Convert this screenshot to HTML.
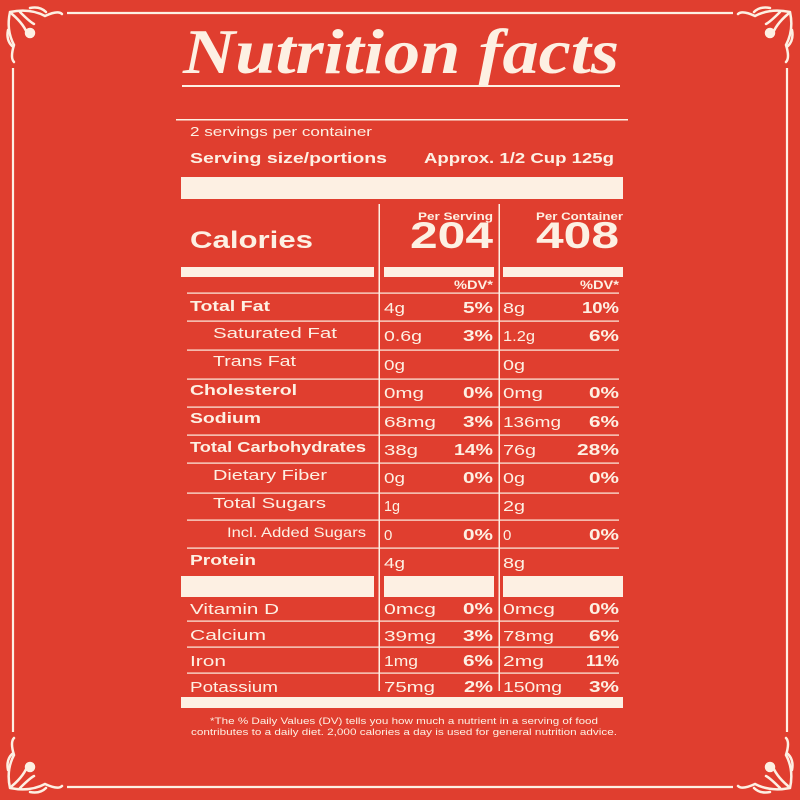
<!DOCTYPE html>
<html><head><meta charset="utf-8"><style>
html,body{margin:0;padding:0;background:#E03E2F;}
svg{display:block}
text{font-family:"Liberation Sans",sans-serif;fill:#FDF0E3}
.b{font-weight:bold}
</style></head><body>
<svg width="800" height="800" viewBox="0 0 800 800" xmlns="http://www.w3.org/2000/svg">
<rect width="800" height="800" fill="#E03E2F"/>
<g stroke="#FDF0E3" stroke-width="2.2" fill="none">
<line x1="67" y1="13" x2="733" y2="13"/>
<line x1="67" y1="787" x2="733" y2="787"/>
<line x1="13" y1="68" x2="13" y2="732"/>
<line x1="787" y1="68" x2="787" y2="732"/>
</g>
<defs>
<g id="orn" fill="none" stroke="#FDF0E3" stroke-width="2.5" stroke-linecap="round">
<path d="M10 12 Q30 8 45 16 Q58 10 62 14 M10 12 Q6 30 14 45 Q10 58 14 62"/>
<path d="M12 14 Q25 25 28 36 M20 12 Q30 22 34 24"/>
<circle cx="30" cy="33" r="4" fill="#FDF0E3"/>
<path d="M8 30 Q6 40 12 46 M30 8 Q40 6 46 12"/>
</g>
</defs>
<use href="#orn"/>
<use href="#orn" transform="translate(800,0) scale(-1,1)"/>
<use href="#orn" transform="translate(0,800) scale(1,-1)"/>
<use href="#orn" transform="translate(800,800) scale(-1,-1)"/>

<text x="183" y="73" class="b" font-style="italic" font-size="64" textLength="436" lengthAdjust="spacingAndGlyphs" style="font-family:'Liberation Serif',serif">Nutrition facts</text>
<rect x="182" y="85" width="438" height="2" fill="#FDF0E3"/>
<rect x="176" y="119" width="452" height="1.5" fill="#FDF0E3"/>
<g lengthAdjust="spacingAndGlyphs">
<text x="190" y="136" font-size="13" textLength="182" lengthAdjust="spacingAndGlyphs">2 servings per container</text>
<text x="190" y="163" font-size="15" class="b" textLength="197" lengthAdjust="spacingAndGlyphs">Serving size/portions</text>
<text x="424" y="163" font-size="15" class="b" textLength="190" lengthAdjust="spacingAndGlyphs">Approx. 1/2 Cup 125g</text>
</g>
<rect x="181" y="177" width="442" height="22" fill="#FDF0E3"/>
<rect x="378.5" y="204" width="1.5" height="487" fill="#FDF0E3"/>
<rect x="498.5" y="204" width="1.5" height="487" fill="#FDF0E3"/>
<text x="190" y="248" font-size="24" class="b" textLength="123" lengthAdjust="spacingAndGlyphs">Calories</text>
<text x="418" y="220" font-size="11" class="b" textLength="75" lengthAdjust="spacingAndGlyphs">Per Serving</text>
<text x="536" y="220" font-size="11" class="b" textLength="87" lengthAdjust="spacingAndGlyphs">Per Container</text>
<text x="410" y="248" font-size="37" class="b" textLength="83" lengthAdjust="spacingAndGlyphs">204</text>
<text x="536" y="248" font-size="37" class="b" textLength="83" lengthAdjust="spacingAndGlyphs">408</text>
<g fill="#FDF0E3">
<rect x="181" y="267" width="193" height="10"/>
<rect x="384" y="267" width="110" height="10"/>
<rect x="503" y="267" width="120" height="10"/>
<rect x="181" y="576" width="193" height="21"/>
<rect x="384" y="576" width="110" height="21"/>
<rect x="503" y="576" width="120" height="21"/>
<rect x="181" y="697" width="442" height="11"/>
</g>
<text x="454" y="289" font-size="12" class="b" textLength="39" lengthAdjust="spacingAndGlyphs">%DV*</text>
<text x="580" y="289" font-size="12" class="b" textLength="39" lengthAdjust="spacingAndGlyphs">%DV*</text>
<g fill="#FDF0E3">
<rect x="187" y="292.5" width="432" height="1.2"/>
<rect x="187" y="320.5" width="432" height="1.2"/>
<rect x="187" y="349.5" width="432" height="1.2"/>
<rect x="187" y="378.5" width="432" height="1.2"/>
<rect x="187" y="406.5" width="432" height="1.2"/>
<rect x="187" y="434.5" width="432" height="1.2"/>
<rect x="187" y="462.5" width="432" height="1.2"/>
<rect x="187" y="492.5" width="432" height="1.2"/>
<rect x="187" y="519.5" width="432" height="1.2"/>
<rect x="187" y="547.5" width="432" height="1.2"/>
<rect x="187" y="620.5" width="432" height="1.2"/>
<rect x="187" y="646.5" width="432" height="1.2"/>
<rect x="187" y="672.5" width="432" height="1.2"/>
</g>
<g font-size="15">
<text x="190" y="311" class="b" textLength="80" lengthAdjust="spacingAndGlyphs">Total Fat</text>
<text x="213" y="338" textLength="124" lengthAdjust="spacingAndGlyphs">Saturated Fat</text>
<text x="213" y="366" textLength="83" lengthAdjust="spacingAndGlyphs">Trans Fat</text>
<text x="190" y="395" class="b" textLength="107" lengthAdjust="spacingAndGlyphs">Cholesterol</text>
<text x="190" y="423" class="b" textLength="71" lengthAdjust="spacingAndGlyphs">Sodium</text>
<text x="190" y="452" class="b" textLength="176" lengthAdjust="spacingAndGlyphs">Total Carbohydrates</text>
<text x="213" y="480" textLength="114" lengthAdjust="spacingAndGlyphs">Dietary Fiber</text>
<text x="213" y="508" textLength="113" lengthAdjust="spacingAndGlyphs">Total Sugars</text>
<text x="227" y="537" font-size="14" textLength="139" lengthAdjust="spacingAndGlyphs">Incl. Added Sugars</text>
<text x="190" y="565" class="b" textLength="66" lengthAdjust="spacingAndGlyphs">Protein</text>
<text x="190" y="614" textLength="89" lengthAdjust="spacingAndGlyphs">Vitamin D</text>
<text x="190" y="640" textLength="76" lengthAdjust="spacingAndGlyphs">Calcium</text>
<text x="190" y="666" textLength="36" lengthAdjust="spacingAndGlyphs">Iron</text>
<text x="190" y="692" textLength="88" lengthAdjust="spacingAndGlyphs">Potassium</text>

<text x="384" y="313" textLength="21" lengthAdjust="spacingAndGlyphs">4g</text><text x="503" y="313" textLength="22" lengthAdjust="spacingAndGlyphs">8g</text>
<text x="384" y="341" textLength="38" lengthAdjust="spacingAndGlyphs">0.6g</text><text x="503" y="341" textLength="32" lengthAdjust="spacingAndGlyphs">1.2g</text>
<text x="384" y="370" textLength="21" lengthAdjust="spacingAndGlyphs">0g</text><text x="503" y="370" textLength="22" lengthAdjust="spacingAndGlyphs">0g</text>
<text x="384" y="398" textLength="40" lengthAdjust="spacingAndGlyphs">0mg</text><text x="503" y="398" textLength="40" lengthAdjust="spacingAndGlyphs">0mg</text>
<text x="384" y="427" textLength="52" lengthAdjust="spacingAndGlyphs">68mg</text><text x="503" y="427" textLength="58" lengthAdjust="spacingAndGlyphs">136mg</text>
<text x="384" y="455" textLength="34" lengthAdjust="spacingAndGlyphs">38g</text><text x="503" y="455" textLength="33" lengthAdjust="spacingAndGlyphs">76g</text>
<text x="384" y="483" textLength="21" lengthAdjust="spacingAndGlyphs">0g</text><text x="503" y="483" textLength="22" lengthAdjust="spacingAndGlyphs">0g</text>
<text x="384" y="511" textLength="16" lengthAdjust="spacingAndGlyphs">1g</text><text x="503" y="511" textLength="22" lengthAdjust="spacingAndGlyphs">2g</text>
<text x="384" y="540">0</text><text x="503" y="540">0</text>
<text x="384" y="568" textLength="21" lengthAdjust="spacingAndGlyphs">4g</text><text x="503" y="568" textLength="22" lengthAdjust="spacingAndGlyphs">8g</text>
<text x="384" y="614" textLength="52" lengthAdjust="spacingAndGlyphs">0mcg</text><text x="503" y="614" textLength="52" lengthAdjust="spacingAndGlyphs">0mcg</text>
<text x="384" y="641" textLength="52" lengthAdjust="spacingAndGlyphs">39mg</text><text x="503" y="641" textLength="51" lengthAdjust="spacingAndGlyphs">78mg</text>
<text x="384" y="666" textLength="34" lengthAdjust="spacingAndGlyphs">1mg</text><text x="503" y="666" textLength="41" lengthAdjust="spacingAndGlyphs">2mg</text>
<text x="384" y="692" textLength="51" lengthAdjust="spacingAndGlyphs">75mg</text><text x="503" y="692" textLength="59" lengthAdjust="spacingAndGlyphs">150mg</text>
</g>
<g font-size="16" class="b">
<text x="463" y="313" textLength="30" lengthAdjust="spacingAndGlyphs">5%</text><text x="582" y="313" textLength="37" lengthAdjust="spacingAndGlyphs">10%</text>
<text x="463" y="341" textLength="30" lengthAdjust="spacingAndGlyphs">3%</text><text x="589" y="341" textLength="30" lengthAdjust="spacingAndGlyphs">6%</text>
<text x="463" y="398" textLength="30" lengthAdjust="spacingAndGlyphs">0%</text><text x="589" y="398" textLength="30" lengthAdjust="spacingAndGlyphs">0%</text>
<text x="463" y="427" textLength="30" lengthAdjust="spacingAndGlyphs">3%</text><text x="589" y="427" textLength="30" lengthAdjust="spacingAndGlyphs">6%</text>
<text x="454" y="455" textLength="39" lengthAdjust="spacingAndGlyphs">14%</text><text x="577" y="455" textLength="42" lengthAdjust="spacingAndGlyphs">28%</text>
<text x="463" y="483" textLength="30" lengthAdjust="spacingAndGlyphs">0%</text><text x="589" y="483" textLength="30" lengthAdjust="spacingAndGlyphs">0%</text>
<text x="463" y="540" textLength="30" lengthAdjust="spacingAndGlyphs">0%</text><text x="589" y="540" textLength="30" lengthAdjust="spacingAndGlyphs">0%</text>
<text x="463" y="614" textLength="30" lengthAdjust="spacingAndGlyphs">0%</text><text x="589" y="614" textLength="30" lengthAdjust="spacingAndGlyphs">0%</text>
<text x="463" y="641" textLength="30" lengthAdjust="spacingAndGlyphs">3%</text><text x="589" y="641" textLength="30" lengthAdjust="spacingAndGlyphs">6%</text>
<text x="463" y="666" textLength="30" lengthAdjust="spacingAndGlyphs">6%</text><text x="586" y="666" textLength="33" lengthAdjust="spacingAndGlyphs">11%</text>
<text x="464" y="692" textLength="29" lengthAdjust="spacingAndGlyphs">2%</text><text x="589" y="692" textLength="30" lengthAdjust="spacingAndGlyphs">3%</text>
</g>
<text x="210" y="724" font-size="9.5" textLength="388" lengthAdjust="spacingAndGlyphs">*The % Daily Values (DV) tells you how much a nutrient in a serving of food</text>
<text x="191" y="735" font-size="9.5" textLength="426" lengthAdjust="spacingAndGlyphs">contributes to a daily diet. 2,000 calories a day is used for general nutrition advice.</text>
</svg>
</body></html>
